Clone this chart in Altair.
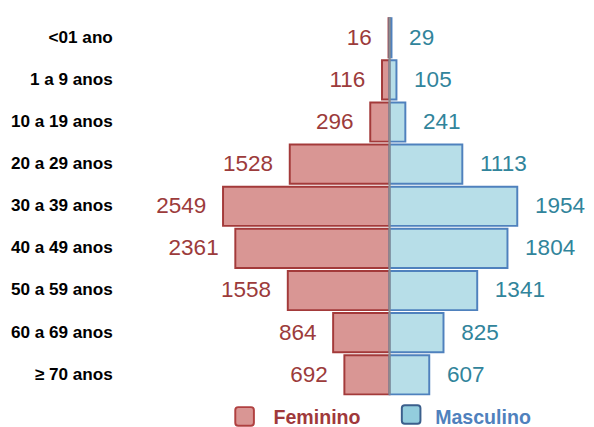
import altair as alt
import pandas as pd

faixas = ["<01 ano", "1 a 9 anos", "10 a 19 anos", "20 a 29 anos", "30 a 39 anos",
          "40 a 49 anos", "50 a 59 anos", "60 a 69 anos", "≥ 70 anos"]
feminino = [16, 116, 296, 1528, 2549, 2361, 1558, 864, 692]
masculino = [29, 105, 241, 1113, 1954, 1804, 1341, 825, 607]
legenda = ["Feminino", "Masculino"]

rows = []
for f, fv, mv in zip(faixas, feminino, masculino):
    rows.append({"faixa": f, "sexo": "Feminino", "valor": fv, "pos": -fv})
    rows.append({"faixa": f, "sexo": "Masculino", "valor": mv, "pos": mv})
df = pd.DataFrame(rows)

W, H = 578, 396
xscale = alt.Scale(domain=[-5840, 2826], nice=False, zero=False)
yscale = alt.Scale(domain=faixas, paddingInner=0.0698, paddingOuter=0.1395)

base = alt.Chart(df)
Y = alt.Y("faixa:N", scale=yscale, axis=None, sort=faixas)

fem_bar = base.transform_filter(alt.datum.sexo == "Feminino").mark_bar(
    fill="#d99694", stroke="#a33a3a", strokeWidth=2
).encode(x=alt.X("pos:Q", scale=xscale, axis=None), x2=alt.datum(0), y=Y)

mas_bar = base.transform_filter(alt.datum.sexo == "Masculino").mark_bar(
    fill="#b7dee8", stroke="#4f81bd", strokeWidth=2
).encode(x=alt.X("pos:Q", scale=xscale, axis=None), x2=alt.datum(0), y=Y)

fem_txt = base.transform_filter(alt.datum.sexo == "Feminino").mark_text(
    align="right", baseline="middle", dx=-17, fontSize=23, font="Liberation Sans",
    color="#9c3b3b"
).encode(x=alt.X("pos:Q", scale=xscale, axis=None), y=Y, text="valor:Q")

mas_txt = base.transform_filter(alt.datum.sexo == "Masculino").mark_text(
    align="left", baseline="middle", dx=18, fontSize=23, font="Liberation Sans",
    color="#31849b"
).encode(x=alt.X("pos:Q", scale=xscale, axis=None), y=Y, text="valor:Q")

cat_txt = alt.Chart(pd.DataFrame({"faixa": faixas})).mark_text(
    align="right", baseline="middle", fontSize=17.5, fontWeight="bold",
    font="Liberation Sans", color="#000000"
).encode(x=alt.value(107), y=Y, text="faixa:N")

center = alt.Chart(pd.DataFrame({"v": [0]})).mark_rule(
    color="#8c8c8c", strokeWidth=2
).encode(x=alt.X("v:Q", scale=xscale, axis=None), y=alt.value(5), y2=alt.value(390))

leg_df = pd.DataFrame({"sexo": legenda})
sw_f = alt.Chart(leg_df).transform_filter(alt.datum.sexo == "Feminino").mark_rect(
    fill="#d99694", stroke="#b04040", strokeWidth=2, cornerRadius=3
).encode(x=alt.value(232), x2=alt.value(251), y=alt.value(403), y2=alt.value(422))
sw_m = alt.Chart(leg_df).transform_filter(alt.datum.sexo == "Masculino").mark_rect(
    fill="#93cddd", stroke="#3b5f8c", strokeWidth=2, cornerRadius=3
).encode(x=alt.value(402), x2=alt.value(421), y=alt.value(401), y2=alt.value(420))
lt_f = alt.Chart(leg_df).transform_filter(alt.datum.sexo == "Feminino").mark_text(
    align="left", baseline="alphabetic", fontSize=20, fontWeight="bold",
    font="Liberation Sans", color="#a0393b"
).encode(x=alt.value(271), y=alt.value(420), text="sexo:N")
lt_m = alt.Chart(leg_df).transform_filter(alt.datum.sexo == "Masculino").mark_text(
    align="left", baseline="alphabetic", fontSize=20, fontWeight="bold",
    font="Liberation Sans", color="#4f81bd"
).encode(x=alt.value(436), y=alt.value(420), text="sexo:N")

chart = alt.layer(
    fem_bar, mas_bar, center, fem_txt, mas_txt, cat_txt, sw_f, sw_m, lt_f, lt_m
).properties(width=W, height=H, padding=0).configure_view(stroke=None)

chart.save("out.html", embed_options={"renderer": "svg", "actions": False})
